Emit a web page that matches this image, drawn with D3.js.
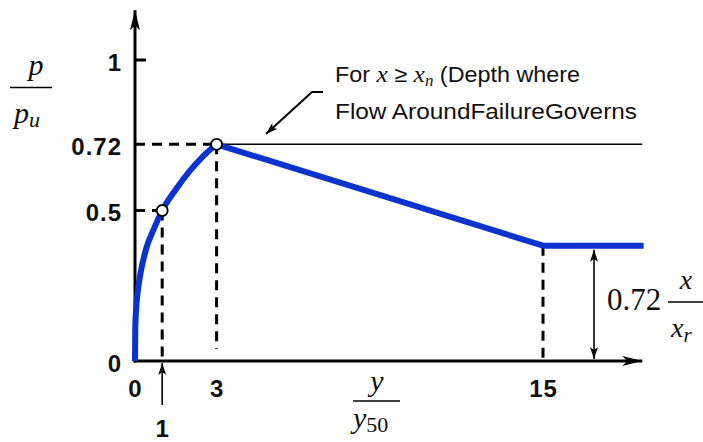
<!DOCTYPE html>
<html>
<head>
<meta charset="utf-8">
<script src="https://cdn.jsdelivr.net/npm/d3@7"></script>
<style>
  body { margin: 0; background: #fff; }
  svg { display: block; }
  .tick { font-family: "Liberation Sans", Arial, sans-serif; font-weight: bold; font-size: 24px; letter-spacing: 1px; fill: #111; }
  .math { font-family: "Liberation Serif", "Times New Roman", serif; fill: #111; }
  .note { font-family: "Liberation Sans", Arial, sans-serif; font-size: 22px; fill: #111; }
</style>
</head>
<body>
<div id="chart"></div>
<script>
// p-y curve
const curveY50 = [0, 0.01, 0.04, 0.1, 0.2, 0.4, 0.7, 1, 1.5, 2, 2.5, 3];
const curveP   = [0, 0.11, 0.17, 0.23, 0.29, 0.37, 0.44, 0.5, 0.57, 0.63, 0.68, 0.72];
const tailY50  = [3, 15, 18.7];
const tailP    = [0.72, 0.383, 0.383];

const yTicks = [0, 0.5, 0.72, 1];
const yTickLabels = ["0", "0.5", "0.72", "1"];
const xTicks = [0, 3, 15];
const xTickLabels = ["0", "3", "15"];
const markedY50 = [1, 3];
const markedP = [0.5, 0.72];

const width = 703, height = 442;
const blue = "#0b33d0";

const svg = d3.select("#chart").append("svg")
    .attr("width", width)
    .attr("height", height)
    .attr("viewBox", [0, 0, width, height]);

// scales
const x = d3.scaleLinear().domain([0, 15]).range([135, 543]);
const y = d3.scaleLinear().domain([0, 1]).range([361, 60]);

const xEnd = 18.65, yEnd = 1.165;

// arrowheads
const defs = svg.append("defs");
defs.append("marker")
    .attr("id", "bigArrow")
    .attr("viewBox", "0 0 20 10")
    .attr("refX", 20).attr("refY", 5)
    .attr("markerWidth", 20).attr("markerHeight", 10)
    .attr("markerUnits", "userSpaceOnUse")
    .attr("orient", "auto")
    .append("path").attr("d", "M0,0 L20,5 L0,10 L5,5 Z").attr("fill", "#000");
defs.append("marker")
    .attr("id", "smallArrow")
    .attr("viewBox", "0 0 12 8")
    .attr("refX", 12).attr("refY", 4)
    .attr("markerWidth", 12).attr("markerHeight", 8)
    .attr("markerUnits", "userSpaceOnUse")
    .attr("orient", "auto-start-reverse")
    .append("path").attr("d", "M0,0 L12,4 L0,8 L3,4 Z").attr("fill", "#000");

// axes
svg.append("line")
    .attr("x1", x(0)).attr("y1", y(0) + 1.5)
    .attr("x2", x(0)).attr("y2", y(yEnd))
    .attr("stroke", "#000").attr("stroke-width", 3)
    .attr("marker-end", "url(#bigArrow)");
svg.append("line")
    .attr("x1", x(0) - 1.5).attr("y1", y(0))
    .attr("x2", x(xEnd)).attr("y2", y(0))
    .attr("stroke", "#000").attr("stroke-width", 3)
    .attr("marker-end", "url(#bigArrow)");

// y tick at 1
svg.append("line")
    .attr("x1", x(0)).attr("x2", x(0) + 11)
    .attr("y1", y(1)).attr("y2", y(1))
    .attr("stroke", "#000").attr("stroke-width", 3);

// dashed guides
const dash = "10,7";
const guides = svg.append("g")
    .attr("stroke", "#000").attr("stroke-width", 3)
    .attr("stroke-dasharray", dash);
markedY50.forEach((v, i) => {
    guides.append("line")
        .attr("x1", x(0)).attr("x2", x(v))
        .attr("y1", y(markedP[i])).attr("y2", y(markedP[i]));
});
guides.append("line")
    .attr("x1", x(1)).attr("x2", x(1))
    .attr("y1", y(0.5)).attr("y2", y(0));
guides.append("line")
    .attr("x1", x(3)).attr("x2", x(3))
    .attr("y1", y(0.72)).attr("y2", y(0) - 12);
guides.append("line")
    .attr("x1", x(15)).attr("x2", x(15))
    .attr("y1", y(tailP[1])).attr("y2", y(0) - 3);

// thin horizontal at 0.72
svg.append("line")
    .attr("x1", x(3)).attr("x2", x(xEnd))
    .attr("y1", y(0.72)).attr("y2", y(0.72))
    .attr("stroke", "#000").attr("stroke-width", 1.6);

// curve
const curveData = curveY50.map((v, i) => [v, curveP[i]]);
const tailData = tailY50.map((v, i) => [v, tailP[i]]);
const line = d3.line().x(d => x(d[0])).y(d => y(d[1]));

svg.append("path")
    .datum(curveData)
    .attr("d", line.curve(d3.curveMonotoneX))
    .attr("fill", "none").attr("stroke", blue).attr("stroke-width", 6)
    .attr("stroke-linejoin", "round");
svg.append("path")
    .datum(tailData)
    .attr("d", d3.line().x(d => x(d[0])).y(d => y(d[1])))
    .attr("fill", "none").attr("stroke", blue).attr("stroke-width", 6)
    .attr("stroke-linejoin", "round");

// markers
svg.selectAll("circle.mark")
    .data(markedY50)
    .join("circle")
    .attr("class", "mark")
    .attr("cx", d => x(d))
    .attr("cy", (d, i) => y(markedP[i]))
    .attr("r", 5.5)
    .attr("fill", "#fff").attr("stroke", "#000").attr("stroke-width", 1.8);

// y tick labels
svg.selectAll("text.ytick")
    .data(yTicks)
    .join("text")
    .attr("class", "tick ytick")
    .attr("x", 122)
    .attr("y", d => y(d) + 10.5)
    .attr("text-anchor", "end")
    .text((d, i) => yTickLabels[i]);

// x tick labels
svg.selectAll("text.xtick")
    .data(xTicks)
    .join("text")
    .attr("class", "tick xtick")
    .attr("x", d => x(d) + 0.5)
    .attr("y", 397)
    .attr("text-anchor", "middle")
    .text((d, i) => xTickLabels[i]);

// "1" with arrow pointing up to the axis
svg.append("line")
    .attr("x1", x(1)).attr("x2", x(1))
    .attr("y1", 405).attr("y2", y(0) + 2)
    .attr("stroke", "#000").attr("stroke-width", 1.6)
    .attr("marker-end", "url(#smallArrow)");
svg.append("text")
    .attr("class", "tick")
    .attr("x", x(1) + 0.5).attr("y", 437)
    .attr("text-anchor", "middle")
    .text("1");

// y-axis title p / p_u
const yt = svg.append("g").attr("class", "math");
yt.append("text").attr("x", 36).attr("y", 75).attr("text-anchor", "middle")
    .attr("font-size", 30).attr("font-style", "italic").text("p");
yt.append("line").attr("x1", 10).attr("x2", 52).attr("y1", 87.5).attr("y2", 87.5)
    .attr("stroke", "#000").attr("stroke-width", 1.6);
const pu = yt.append("text").attr("x", 14).attr("y", 123)
    .attr("font-size", 30).attr("font-style", "italic");
pu.append("tspan").text("p");
pu.append("tspan").attr("font-size", 22).attr("dy", 4).text("u");

// x-axis title y / y50
const xt = svg.append("g").attr("class", "math");
xt.append("text").attr("x", 377).attr("y", 391).attr("text-anchor", "middle")
    .attr("font-size", 30).attr("font-style", "italic").text("y");
xt.append("line").attr("x1", 353).attr("x2", 400).attr("y1", 401).attr("y2", 401)
    .attr("stroke", "#000").attr("stroke-width", 1.6);
const y50 = xt.append("text").attr("x", 353).attr("y", 428)
    .attr("font-size", 30);
y50.append("tspan").attr("font-style", "italic").text("y");
y50.append("tspan").attr("font-size", 22).attr("dy", 4).text("50");

// 0.72 x / x_r dimension
svg.append("line")
    .attr("x1", 594).attr("x2", 594)
    .attr("y1", y(tailP[1]) + 4).attr("y2", y(0) - 2)
    .attr("stroke", "#000").attr("stroke-width", 1.6)
    .attr("marker-start", "url(#smallArrow)")
    .attr("marker-end", "url(#smallArrow)");
const dim = svg.append("g").attr("class", "math");
dim.append("text").attr("x", 607).attr("y", 310).attr("font-size", 31).text("0.72");
dim.append("line").attr("x1", 668).attr("x2", 705).attr("y1", 302).attr("y2", 302)
    .attr("stroke", "#000").attr("stroke-width", 1.4);
dim.append("text").attr("x", 686).attr("y", 289).attr("text-anchor", "middle")
    .attr("font-size", 28).attr("font-style", "italic").text("x");
const xr = dim.append("text").attr("x", 671).attr("y", 337)
    .attr("font-size", 28).attr("font-style", "italic");
xr.append("tspan").text("x");
xr.append("tspan").attr("font-size", 21).attr("dy", 5).text("r");

// annotation
const note1 = svg.append("text").attr("class", "note").attr("x", 335).attr("y", 82)
    .attr("textLength", 245).attr("lengthAdjust", "spacingAndGlyphs");
note1.append("tspan").text("For ");
note1.append("tspan").attr("class", "math").attr("font-style", "italic").attr("font-size", 24).text("x");
note1.append("tspan").text(" \u2265 ");
note1.append("tspan").attr("class", "math").attr("font-style", "italic").attr("font-size", 24).text("x");
note1.append("tspan").attr("class", "math").attr("font-style", "italic").attr("font-size", 16).attr("dy", 4).text("n");
note1.append("tspan").attr("dy", -4).text(" (Depth where");
svg.append("text").attr("class", "note").attr("x", 335).attr("y", 119)
    .attr("textLength", 302).attr("lengthAdjust", "spacingAndGlyphs")
    .text("Flow AroundFailureGoverns");
svg.append("path")
    .attr("d", "M323,92 L312,92 L266,134")
    .attr("fill", "none").attr("stroke", "#000").attr("stroke-width", 2)
    .attr("marker-end", "url(#smallArrow)");
</script>
</body>
</html>
